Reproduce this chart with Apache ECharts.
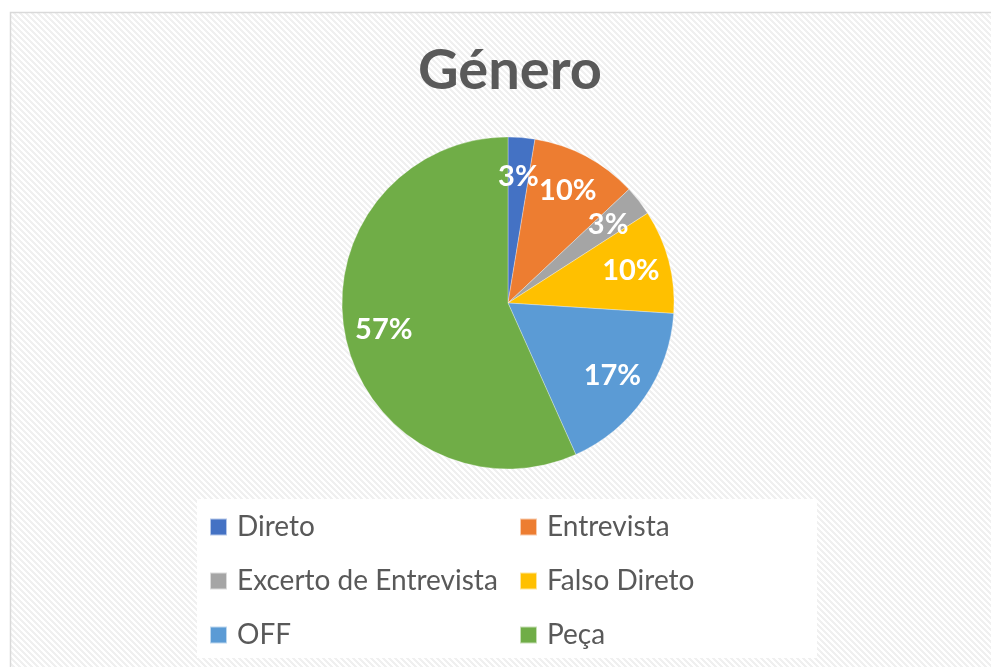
<!DOCTYPE html>
<html>
<head>
<meta charset="utf-8">
<script src="https://cdn.jsdelivr.net/npm/echarts@6/dist/echarts.min.js"></script>
<style>
  html, body { margin: 0; padding: 0; background: #fff; }
  #container { width: 991px; height: 667px; }
</style>
</head>
<body>
<div id="container"></div>
<script>
// data (share of items per genre, %)
const categories = ['Direto', 'Entrevista', 'Excerto de Entrevista', 'Falso Direto', 'OFF', 'Peça'];
const values = [2.6, 10.4, 2.9, 10.1, 17.3, 56.7];
const colors = ['#4472C4', '#ED7D31', '#A5A5A5', '#FFC000', '#5B9BD5', '#70AD47'];
const legendLeft = ['Direto', 'Excerto de Entrevista', 'OFF'];
const legendRight = ['Entrevista', 'Falso Direto', 'Peça'];

// hatched background tile
function hatchTile() {
    let c = document.createElement('canvas');
    c.width = 6; c.height = 6;
    let ctx = c.getContext('2d');
    ctx.fillStyle = '#ffffff';
    ctx.fillRect(0, 0, 6, 6);
    ctx.fillStyle = '#f0f0f0';
    for (let y = 0; y < 6; y++) {
        for (let x = 0; x < 6; x++) {
            if (((x - y) % 6 + 6) % 6 < 3) ctx.fillRect(x, y, 1, 1);
        }
    }
    return c;
}

let dom = document.getElementById('container');
let myChart = echarts.init(dom, null, { renderer: 'canvas' });

const pieData = categories.map((name, i) => ({
    name: name,
    value: values[i],
    itemStyle: { color: colors[i] }
}));

const legendStyle = {
    orient: 'vertical',
    itemWidth: 17,
    itemHeight: 17,
    itemGap: 26,
    icon: 'rect',
    top: 508,
    textStyle: {
        fontFamily: 'Lato',
        fontSize: 28,
        lineHeight: 28,
        color: '#595959',
        padding: [0, 0, 0, 5]
    }
};

const option = {
    animation: false,
    title: {
        text: 'Género',
        left: 413,
        top: 38,
        textStyle: {
            fontFamily: 'Lato',
            fontWeight: 'bold',
            fontSize: 56,
            color: '#595959'
        }
    },
    graphic: [
        {
            type: 'rect',
            z: -10,
            silent: true,
            shape: { x: 10.5, y: 12.5, width: 1000, height: 700 },
            style: {
                fill: { image: hatchTile(), repeat: 'repeat' },
                stroke: '#d9d9d9',
                lineWidth: 1.5
            }
        },
        {
            type: 'rect',
            z: -5,
            silent: true,
            shape: { x: 197, y: 499, width: 620, height: 159 },
            style: { fill: '#ffffff' }
        }
    ],
    legend: [
        Object.assign({ left: 204, data: legendLeft }, legendStyle),
        Object.assign({ left: 514, data: legendRight }, legendStyle)
    ],
    series: [
        {
            name: 'Género',
            type: 'pie',
            center: [508, 303],
            radius: [0, 166],
            startAngle: 90,
            clockwise: true,
            silent: true,
            itemStyle: { borderColor: 'rgba(255,255,255,0.6)', borderWidth: 0.5 },
            label: { show: false },
            labelLine: { show: false },
            data: pieData
        },
        {
            // label ring: same slices, transparent, labels sit at mid-ring
            name: 'labels',
            type: 'pie',
            center: [508, 303],
            radius: [82, 166],
            startAngle: 90,
            clockwise: true,
            silent: true,
            z: 3,
            itemStyle: { color: 'rgba(0,0,0,0)' },
            label: {
                show: true,
                position: 'inside',
                formatter: (p) => Math.round(p.percent) + '%',
                fontFamily: 'Lato',
                fontWeight: 'bold',
                fontSize: 29,
                color: '#ffffff'
            },
            labelLine: { show: false },
            data: categories.map((name, i) => ({ name: name, value: values[i] }))
        }
    ]
};

myChart.setOption(option);
</script>
</body>
</html>
